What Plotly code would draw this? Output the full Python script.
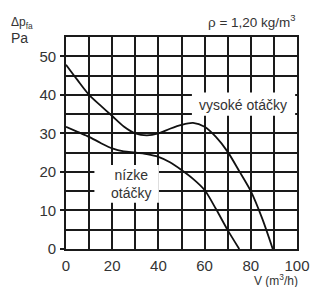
import plotly.graph_objects as go

# data
high_x = [0, 5, 10, 15, 20, 25, 30, 35, 40, 45, 50, 55, 60, 65, 70, 75, 80, 85, 89.5]
high_y = [47.8, 43.8, 40, 37.2, 34.5, 31.8, 30, 29.5, 30, 31.2, 32.2, 32.7, 31.7, 29, 25.2, 20.2, 15, 7.8, 0]
low_x = [0, 5, 10, 15, 20, 25, 30, 35, 40, 45, 50, 55, 60, 65, 70, 75]
low_y = [31.7, 30.4, 29.1, 27.5, 26.1, 25.3, 25, 24.6, 23.9, 22.5, 20.5, 18.2, 15.3, 10.3, 4.9, 0]
x_ticks = [0, 20, 40, 60, 80, 100]
y_ticks = [0, 10, 20, 30, 40, 50]
label_high = "vysoké otáčky"
label_low = "nízke<br>otáčky"

FONT = "Liberation Sans, Arial, sans-serif"
TXT = "#333333"
GRID = "#1a1a1a"

fig = go.Figure()
fig.add_trace(go.Scatter(x=high_x, y=high_y, mode="lines",
                         line=dict(color="#111111", width=1.8, shape="spline", smoothing=0.8),
                         showlegend=False, hoverinfo="skip"))
fig.add_trace(go.Scatter(x=low_x, y=low_y, mode="lines",
                         line=dict(color="#111111", width=1.8, shape="spline", smoothing=0.8),
                         showlegend=False, hoverinfo="skip"))

fig.update_layout(
    width=317, height=287,
    margin=dict(l=66, r=20, t=37, b=38, autoexpand=False),
    plot_bgcolor="white", paper_bgcolor="white",
    font=dict(family=FONT, color=TXT, size=15),
    xaxis=dict(range=[0, 100], tickvals=x_ticks, showgrid=True, gridcolor=GRID, gridwidth=1.6,
               minor=dict(dtick=10, showgrid=True, gridcolor=GRID, gridwidth=1.6),
               showline=True, mirror=True, linecolor=GRID, linewidth=1.6,
               zeroline=False, ticks="", ticklabelstandoff=2, fixedrange=True, automargin=False),
    yaxis=dict(range=[0, 55], tickvals=y_ticks, showgrid=True, gridcolor=GRID, gridwidth=1.6,
               minor=dict(dtick=5, showgrid=True, gridcolor=GRID, gridwidth=1.6),
               showline=True, mirror=True, linecolor=GRID, linewidth=1.6,
               zeroline=False, ticks="outside", ticklen=4, tickwidth=1.5, tickcolor=GRID,
               ticklabelstandoff=1, fixedrange=True, automargin=False),
    shapes=[
        dict(type="rect", xref="x", yref="y", x0=54.5, x1=99.2, y0=34.6, y1=40.6,
             fillcolor="white", line=dict(width=0), layer="above"),
        dict(type="rect", xref="x", yref="y", x0=12.3, x1=40.2, y0=12.0, y1=21.8,
             fillcolor="white", line=dict(width=0), layer="above"),
    ],
    annotations=[
        dict(text=label_high, x=76.5, y=37.4, xref="x", yref="y", showarrow=False,
             font=dict(size=14, color=TXT)),
        dict(text=label_low, x=28, y=16.8, xref="x", yref="y", showarrow=False,
             font=dict(size=14, color=TXT)),
        dict(text="Δp<sub>fa</sub>", x=-0.245, y=1.065, xref="paper", yref="paper",
             xanchor="left", yanchor="middle", showarrow=False, font=dict(size=12, color=TXT)),
        dict(text="Pa", x=-0.245, y=0.995, xref="paper", yref="paper",
             xanchor="left", yanchor="middle", showarrow=False, font=dict(size=14, color=TXT)),
        dict(text="ρ = 1,20 kg/m<sup>3</sup>", x=1.004, y=1.075, xref="paper", yref="paper",
             xanchor="right", yanchor="middle", showarrow=False, font=dict(size=13.5, color=TXT)),
        dict(text="V (m<sup>3</sup>/h)", x=0.909, y=-0.145, xref="paper", yref="paper",
             xanchor="center", yanchor="middle", showarrow=False, font=dict(size=12, color=TXT)),
    ],
)

fig.write_html("out.html", config={"displayModeBar": False},
               post_script="document.body.style.margin='0';document.body.style.overflow='hidden';")
